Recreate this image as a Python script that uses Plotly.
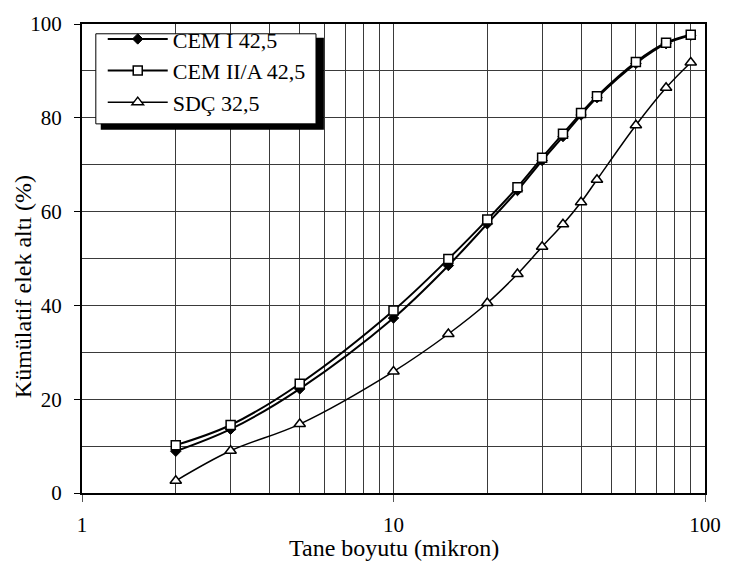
import plotly.graph_objects as go

# ---- data ----
sizes = [2, 3, 5, 10, 15, 20, 25, 30, 35, 40, 45, 60, 75, 90]
cem1 = [8.9, 13.6, 22.2, 37.3, 48.5, 57.4, 64.5, 70.9, 76.0, 80.6, 84.3, 91.6, 95.8, 97.6]
cem2a = [10.2, 14.5, 23.3, 38.9, 49.9, 58.3, 65.2, 71.5, 76.6, 81.0, 84.6, 91.9, 96.0, 97.7]
sdc = [2.6, 9.0, 14.7, 25.9, 33.9, 40.5, 46.7, 52.5, 57.3, 62.0, 66.8, 78.4, 86.4, 91.8]
names = ["CEM I 42,5", "CEM II/A 42,5", "SDÇ 32,5"]
x_ticks = [1, 10, 100]
x_minor = [2, 3, 4, 5, 6, 7, 8, 9, 20, 30, 40, 50, 60, 70, 80, 90]

FONT = "Liberation Serif"
W, H = 733, 561
L, R, T, B = 82, 20, 14, 68
PW, PH = W - L - R, H - T - B


def xp(p):
    return (p - L) / PW


def yp(p):
    return (H - B - p) / PH


fig = go.Figure()
fig.add_trace(go.Scatter(
    x=sizes, y=cem1, name=names[0], mode="lines+markers",
    line=dict(color="black", width=2, shape="spline", smoothing=1),
    marker=dict(symbol="diamond", size=8, color="black", line=dict(color="black", width=1)),
))
fig.add_trace(go.Scatter(
    x=sizes, y=cem2a, name=names[1], mode="lines+markers",
    line=dict(color="black", width=2, shape="spline", smoothing=1),
    marker=dict(symbol="square", size=9, color="white", line=dict(color="black", width=1.5)),
))
fig.add_trace(go.Scatter(
    x=sizes, y=sdc, name=names[2], mode="lines+markers",
    line=dict(color="black", width=1.5, shape="spline", smoothing=1),
    marker=dict(symbol="triangle-up", size=10, color="white", line=dict(color="black", width=1.5)),
))

grid_col = "#3a3a3a"
fig.update_xaxes(
    type="log", range=[0, 2],
    tickvals=x_ticks, ticktext=[str(v) for v in x_ticks],
    ticks="outside", ticklen=7, tickwidth=1, tickcolor="#555",
    showgrid=True, gridcolor=grid_col, gridwidth=1,
    minor=dict(tickvals=x_minor, showgrid=True, gridcolor=grid_col, gridwidth=1, ticks=""),
    showline=True, linecolor="black", linewidth=2, mirror=True,
    tickfont=dict(family=FONT, size=21, color="black"),
    ticklabelstandoff=5,
    zeroline=False,
)
fig.update_yaxes(
    range=[0, 100], dtick=20, tick0=0,
    ticks="outside", ticklen=6, tickwidth=1, tickcolor="black",
    showgrid=True, gridcolor=grid_col, gridwidth=1,
    minor=dict(dtick=10, showgrid=True, gridcolor=grid_col, gridwidth=1, ticks=""),
    showline=True, linecolor="black", linewidth=2, mirror=True,
    tickfont=dict(family=FONT, size=21, color="black"),
    ticklabelstandoff=8,
    zeroline=False,
)

shapes = [
    dict(type="rect", xref="paper", yref="paper", layer="above",
         x0=xp(101), x1=xp(327), y0=yp(122), y1=yp(28),
         fillcolor="black", line=dict(width=0)),
    dict(type="rect", xref="paper", yref="paper", layer="above",
         x0=xp(96), x1=xp(319), y0=yp(116), y1=yp(24),
         fillcolor="white", line=dict(color="black", width=1)),
]

annotations = [
    dict(text="Tane boyutu (mikron)", xref="paper", yref="paper",
         x=0.5, y=yp(549), xanchor="center", yanchor="middle", showarrow=False,
         font=dict(family=FONT, size=24, color="black")),
    dict(text="Kümülatif elek altı (%)", xref="paper", yref="paper",
         x=xp(23), y=yp(282), xanchor="center", yanchor="middle", showarrow=False,
         textangle=-90, font=dict(family=FONT, size=24, color="black")),
]

fig.update_layout(
    width=W, height=H,
    margin=dict(l=L, r=R, t=T, b=B, pad=0),
    paper_bgcolor="white", plot_bgcolor="white",
    font=dict(family=FONT, size=20, color="black"),
    showlegend=True,
    legend=dict(
        x=xp(103), y=yp(8), xanchor="left", yanchor="top",
        bgcolor="rgba(0,0,0,0)", borderwidth=0,
        font=dict(family=FONT, size=22, color="black"),
        itemwidth=60, tracegroupgap=0,
    ),
    shapes=shapes,
    annotations=annotations,
)

fig.write_html("out.html")
